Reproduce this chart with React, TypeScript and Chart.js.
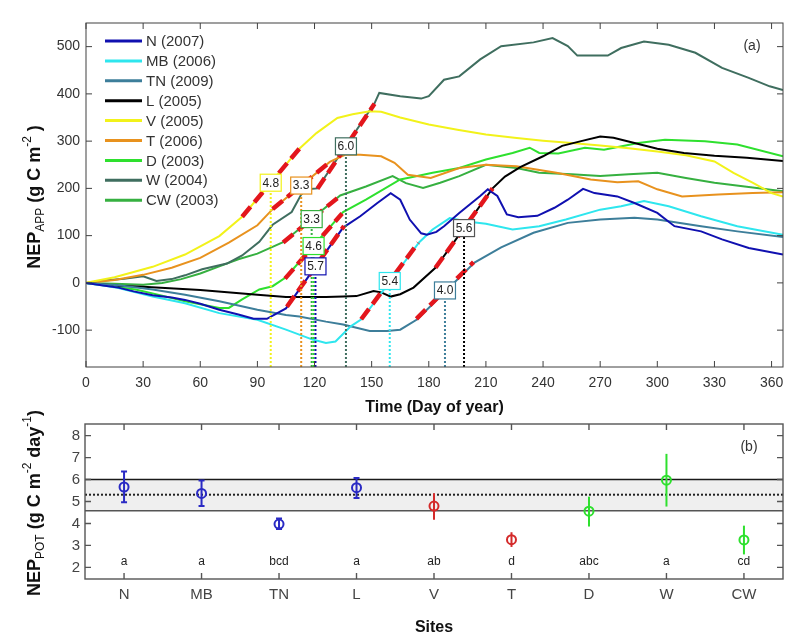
import React, { useEffect, useRef } from 'react';
import { Chart, registerables } from 'chart.js';

Chart.register(...registerables);

const FONT = "'Liberation Sans', Arial, Helvetica, sans-serif";
const TOP_H = 420;
const BOT_TOP = 396;
const BOT_H = 644 - BOT_TOP;

// ---------------- Panel (a): apparent NEP ----------------
const seriesNames = ['N (2007)', 'MB (2006)', 'TN (2009)', 'L (2005)', 'V (2005)', 'T (2006)', 'D (2003)', 'W (2004)', 'CW (2003)'];
const seriesColors = ['#1010b0', '#2ee6ee', '#3d7e9a', '#000000', '#f2f21a', '#e8921e', '#2ee02e', '#3f6e5f', '#36b040'];

const dayN = [0, 10, 17, 25, 35, 45, 52, 60, 70, 80, 88, 95, 100, 105, 135, 144, 153, 160, 165, 170, 176, 179, 184, 188, 196, 207, 211, 216, 221, 227, 237, 246, 253, 261, 267, 279, 288, 300, 309, 323, 334, 348, 366];
const nepN = [0, -6, -10, -18, -26, -31, -36, -44, -57, -67, -76, -76, -65, -54, 117, 141, 169, 190, 176, 134, 105, 102, 108, 120, 148, 184, 198, 184, 145, 139, 142, 159, 176, 199, 190, 183, 169, 148, 120, 109, 92, 74, 60];

const dayMB = [0, 10, 17, 35, 52, 70, 90, 105, 119, 126, 131, 139, 145, 175, 182, 191, 200, 210, 224, 238, 252, 270, 281, 293, 306, 323, 342, 366];
const nepMB = [0, -6, -11, -29, -43, -64, -78, -99, -120, -127, -124, -92, -76, 86, 113, 137, 130, 125, 113, 120, 134, 155, 162, 173, 162, 141, 120, 102];

const dayTN = [0, 17, 35, 52, 70, 90, 105, 112, 126, 135, 149, 158, 165, 174, 204, 218, 235, 253, 270, 288, 300, 323, 342, 366];
const nepTN = [0, -5, -14, -25, -39, -57, -68, -71, -82, -88, -102, -102, -99, -77, 43, 75, 106, 127, 134, 138, 134, 120, 109, 97];

const dayL = [0, 17, 30, 60, 90, 105, 126, 135, 142, 151, 155, 160, 165, 172, 183.5, 213.5, 220, 228, 240, 250, 260, 270, 277, 288, 300, 314, 330, 347, 366];
const nepL = [0, -6, -8, -15, -25, -30, -30, -29, -28, -17, -20, -29, -24, -10, 32, 200, 225, 245, 268, 290, 300, 310, 307, 296, 284, 275, 269, 265, 258];

const dayV = [0, 15, 35, 52, 70, 82, 112, 121, 132, 140, 149, 155, 165, 180, 195, 210, 225, 240, 255, 270, 285, 300, 315, 330, 340, 350, 360, 366];
const nepV = [0, 12, 34, 60, 99, 140, 284, 317, 349, 357, 363, 362, 350, 335, 324, 314, 307, 301, 296, 291, 285, 278, 270, 257, 233, 212, 190, 183];

const dayT = [0, 15, 30, 45, 60, 75, 90, 98, 128, 136, 144, 155, 162, 169, 181, 196, 210, 226, 247, 265, 279, 290, 300, 313, 332, 350, 366];
const nepT = [0, 6, 17, 32, 53, 85, 122, 156, 256, 271, 271, 268, 254, 229, 222, 243, 250, 247, 233, 219, 213, 215, 198, 183, 187, 190, 192];

const dayD = [0, 15, 26, 40, 52, 62, 70, 75, 82, 91, 98, 105, 135, 147, 165, 174, 182, 196, 210, 224, 233, 238, 248, 262, 272, 290, 304, 325, 342, 366];
const nepD = [0, -8, -14, -27, -39, -47, -53, -53, -35, -14, -7, 12, 150, 176, 219, 226, 233, 243, 261, 275, 286, 275, 274, 286, 282, 296, 303, 300, 293, 268];

const dayW = [0, 10, 20, 30, 37, 45, 52, 61, 74, 82, 91, 98, 108, 113, 116, 121.5, 151.5, 154, 165, 176, 180, 188, 196, 207, 218, 235, 245, 253, 258, 265, 274, 281, 293, 306, 320, 334, 348, 359, 366];
const nepW = [0, 5, 9, 14, 4, 8, 16, 29, 41, 58, 87, 123, 150, 187, 198, 200, 380, 402, 395, 390, 395, 430, 437, 473, 501, 509, 518, 501, 481, 481, 481, 497, 511, 504, 487, 455, 434, 416, 408];

const dayCW = [0, 15, 30, 40, 50, 60, 70, 80, 90, 100, 103.5, 133.5, 147, 161, 168, 177, 186, 196, 210, 226, 238, 255, 270, 285, 300, 315, 330, 348, 366];
const nepCW = [0, -2, -4, 0, 8, 20, 35, 50, 62, 80, 86, 185, 204, 226, 211, 201, 212, 226, 250, 243, 233, 230, 226, 230, 233, 222, 212, 203, 194];

const seriesDays = [dayN, dayMB, dayTN, dayL, dayV, dayT, dayD, dayW, dayCW];
const seriesVals = [nepN, nepMB, nepTN, nepL, nepV, nepT, nepD, nepW, nepCW];

// NEP_POT tangent segments (site index, centre day, value at centre, slope)
const potSiteIdx = [4, 5, 7, 8, 6, 0, 1, 2, 3];
const potDay = [97, 113, 136.5, 118.5, 119.5, 120.5, 159.5, 188.5, 198.5];
const potValue = [212, 206, 289, 135, 78, 35, 4, -16, 116];
const potSlope = [4.8, 3.3, 6.0, 3.3, 4.6, 5.7, 5.4, 4.0, 5.6];
const potHalfDays = 15;

const topXTicks = [0, 30, 60, 90, 120, 150, 180, 210, 240, 270, 300, 330, 360];
const topYTicks = [-100, 0, 100, 200, 300, 400, 500];

// ---------------- Panel (b): potential NEP ----------------
const sites = ['N', 'MB', 'TN', 'L', 'V', 'T', 'D', 'W', 'CW'];
const potMean = [5.66, 5.37, 3.97, 5.63, 4.79, 3.26, 4.56, 5.97, 3.25];
const potLow = [4.97, 4.79, 3.75, 5.16, 4.17, 2.93, 3.86, 4.77, 2.59];
const potHigh = [6.37, 5.96, 4.22, 6.07, 5.38, 3.6, 5.22, 7.17, 3.9];
const groupLetters = ['a', 'a', 'bcd', 'a', 'ab', 'd', 'abc', 'a', 'cd'];
const siteColors = ['#2a2ac4', '#2a2ac4', '#2a2ac4', '#2a2ac4', '#d42a2a', '#d42a2a', '#2ee02e', '#2ee02e', '#2ee02e'];
const bandLow = 4.58;
const bandHigh = 6.0;
const bandMean = 5.31;
const letterLevel = 2.25;
const botYTicks = [2, 3, 4, 5, 6, 7, 8];

type Part = { t: string; font: string; dy: number };

function drawRich(ctx: CanvasRenderingContext2D, parts: Part[], cx: number, cy: number, rotate: boolean, color: string) {
  ctx.save();
  ctx.translate(cx, cy);
  if (rotate) ctx.rotate(-Math.PI / 2);
  ctx.fillStyle = color;
  ctx.textAlign = 'left';
  ctx.textBaseline = 'alphabetic';
  let total = 0;
  for (const p of parts) {
    ctx.font = p.font;
    total += ctx.measureText(p.t).width;
  }
  let x = -total / 2;
  for (const p of parts) {
    ctx.font = p.font;
    ctx.fillText(p.t, x, p.dy);
    x += ctx.measureText(p.t).width;
  }
  ctx.restore();
}

function drawBoxAndTicks(ctx: CanvasRenderingContext2D, a: any, xs: number[], ys: number[], len: number, color: string, lw: number) {
  ctx.save();
  ctx.strokeStyle = color;
  ctx.lineWidth = lw;
  ctx.setLineDash([]);
  ctx.beginPath();
  for (const px of xs) {
    ctx.moveTo(px, a.bottom);
    ctx.lineTo(px, a.bottom - len);
    ctx.moveTo(px, a.top);
    ctx.lineTo(px, a.top + len);
  }
  for (const py of ys) {
    ctx.moveTo(a.left, py);
    ctx.lineTo(a.left + len, py);
    ctx.moveTo(a.right, py);
    ctx.lineTo(a.right - len, py);
  }
  ctx.stroke();
  ctx.strokeRect(a.left, a.top, a.right - a.left, a.bottom - a.top);
  ctx.restore();
}

const B18 = `bold 18px ${FONT}`;
const R12 = `12px ${FONT}`;

const topPlugin = {
  id: 'topDeco',
  afterDatasetsDraw(chart: any) {
    const { ctx, chartArea: a } = chart;
    const xs = chart.scales.x;
    const ys = chart.scales.y;
    ctx.save();
    for (let k = 0; k < potDay.length; k++) {
      const px = xs.getPixelForValue(potDay[k]);
      const py = ys.getPixelForValue(potValue[k]);
      ctx.strokeStyle = seriesColors[potSiteIdx[k]];
      ctx.lineWidth = 2;
      ctx.setLineDash([2, 2]);
      ctx.beginPath();
      ctx.moveTo(px, a.bottom);
      ctx.lineTo(px, py + 8);
      ctx.stroke();
    }
    ctx.setLineDash([]);
    for (let k = 0; k < potDay.length; k++) {
      const px = xs.getPixelForValue(potDay[k]);
      const py = ys.getPixelForValue(potValue[k]);
      const c = seriesColors[potSiteIdx[k]];
      const w = 21;
      const h = 17;
      ctx.fillStyle = '#ffffff';
      ctx.fillRect(px - w / 2, py - h / 2, w, h);
      ctx.strokeStyle = potSiteIdx[k] === 3 ? '#555555' : c;
      ctx.lineWidth = 1.2;
      ctx.strokeRect(px - w / 2, py - h / 2, w, h);
      ctx.fillStyle = '#222222';
      ctx.font = `12px ${FONT}`;
      ctx.textAlign = 'center';
      ctx.textBaseline = 'middle';
      ctx.fillText(potSlope[k].toFixed(1), px, py + 0.5);
    }
    ctx.restore();
  },
  afterDraw(chart: any) {
    const { ctx, chartArea: a } = chart;
    const xs = chart.scales.x;
    const ys = chart.scales.y;
    drawBoxAndTicks(
      ctx,
      a,
      topXTicks.map((v) => xs.getPixelForValue(v)),
      topYTicks.map((v) => ys.getPixelForValue(v)),
      6,
      '#404040',
      1
    );
    ctx.save();
    for (let i = 0; i < seriesNames.length; i++) {
      const y = 41 + i * 19.9;
      ctx.strokeStyle = seriesColors[i];
      ctx.lineWidth = 3;
      ctx.beginPath();
      ctx.moveTo(105, y);
      ctx.lineTo(142, y);
      ctx.stroke();
      ctx.fillStyle = '#333333';
      ctx.font = `15px ${FONT}`;
      ctx.textAlign = 'left';
      ctx.textBaseline = 'middle';
      ctx.fillText(seriesNames[i], 146, y + 1);
    }
    ctx.font = `14px ${FONT}`;
    ctx.textAlign = 'center';
    ctx.textBaseline = 'middle';
    ctx.fillStyle = '#333333';
    ctx.fillText('(a)', 752, 46);
    ctx.restore();
    drawRich(ctx, [{ t: 'Time (Day of year)', font: `bold 16px ${FONT}`, dy: 0 }], (a.left + a.right) / 2, 412, false, '#111111');
    drawRich(
      ctx,
      [
        { t: 'NEP', font: B18, dy: 0 },
        { t: 'APP', font: R12, dy: 4 },
        { t: ' (g C m', font: B18, dy: 0 },
        { t: '-2', font: R12, dy: -9 },
        { t: ' )', font: B18, dy: 0 },
      ],
      40,
      197,
      true,
      '#111111'
    );
  },
};

const botPlugin = {
  id: 'botDeco',
  beforeDatasetsDraw(chart: any) {
    const { ctx, chartArea: a } = chart;
    const xs = chart.scales.x;
    const ys = chart.scales.y;
    ctx.save();
    const yHi = ys.getPixelForValue(bandHigh);
    const yLo = ys.getPixelForValue(bandLow);
    const yMe = ys.getPixelForValue(bandMean);
    ctx.fillStyle = '#efefef';
    ctx.fillRect(a.left, yHi, a.right - a.left, yLo - yHi);
    ctx.lineWidth = 1.4;
    ctx.strokeStyle = '#1a1a1a';
    ctx.beginPath();
    ctx.moveTo(a.left, yHi);
    ctx.lineTo(a.right, yHi);
    ctx.stroke();
    ctx.strokeStyle = '#555555';
    ctx.beginPath();
    ctx.moveTo(a.left, yLo);
    ctx.lineTo(a.right, yLo);
    ctx.stroke();
    ctx.strokeStyle = '#222222';
    ctx.lineWidth = 2;
    ctx.setLineDash([2, 2]);
    ctx.beginPath();
    ctx.moveTo(a.left, yMe);
    ctx.lineTo(a.right, yMe);
    ctx.stroke();
    ctx.setLineDash([]);
    for (let i = 0; i < sites.length; i++) {
      const px = xs.getPixelForValue(i);
      const y1 = ys.getPixelForValue(potLow[i]);
      const y2 = ys.getPixelForValue(potHigh[i]);
      ctx.strokeStyle = siteColors[i];
      ctx.lineWidth = 2;
      ctx.beginPath();
      ctx.moveTo(px, y1);
      ctx.lineTo(px, y2);
      if (i < 4) {
        ctx.moveTo(px - 3, y1);
        ctx.lineTo(px + 3, y1);
        ctx.moveTo(px - 3, y2);
        ctx.lineTo(px + 3, y2);
      }
      ctx.stroke();
    }
    ctx.fillStyle = '#222222';
    ctx.font = `12px ${FONT}`;
    ctx.textAlign = 'center';
    ctx.textBaseline = 'middle';
    for (let i = 0; i < sites.length; i++) {
      ctx.fillText(groupLetters[i], xs.getPixelForValue(i), ys.getPixelForValue(letterLevel));
    }
    ctx.restore();
  },
  afterDraw(chart: any) {
    const { ctx, chartArea: a } = chart;
    const xs = chart.scales.x;
    const ys = chart.scales.y;
    drawBoxAndTicks(
      ctx,
      a,
      sites.map((_, i) => xs.getPixelForValue(i)),
      botYTicks.map((v) => ys.getPixelForValue(v)),
      6,
      '#555555',
      1.4
    );
    ctx.save();
    ctx.font = `14px ${FONT}`;
    ctx.textAlign = 'center';
    ctx.textBaseline = 'middle';
    ctx.fillStyle = '#333333';
    ctx.fillText('(b)', 749, 447 - BOT_TOP);
    ctx.restore();
    drawRich(ctx, [{ t: 'Sites', font: `bold 16px ${FONT}`, dy: 0 }], (a.left + a.right) / 2, 632 - BOT_TOP, false, '#111111');
    drawRich(
      ctx,
      [
        { t: 'NEP', font: B18, dy: 0 },
        { t: 'POT', font: R12, dy: 4 },
        { t: ' (g C m', font: B18, dy: 0 },
        { t: '-2', font: R12, dy: -9 },
        { t: ' day', font: B18, dy: 0 },
        { t: '-1', font: R12, dy: -9 },
        { t: ')', font: B18, dy: 0 },
      ],
      40,
      503 - BOT_TOP,
      true,
      '#111111'
    );
  },
};

function topConfig(): any {
  const lineSets = seriesDays.map((days, s) => ({
    type: 'line',
    label: seriesNames[s],
    data: days.map((d, i) => ({ x: d, y: seriesVals[s][i] })),
    borderColor: seriesColors[s],
    backgroundColor: seriesColors[s],
    borderWidth: 2,
    pointRadius: 0,
    tension: 0,
    fill: false,
    order: 1,
  }));
  const potSets = potDay.map((d, k) => ({
    type: 'line',
    label: 'POT ' + seriesNames[potSiteIdx[k]],
    data: [
      { x: d - potHalfDays, y: potValue[k] - potHalfDays * potSlope[k] },
      { x: d + potHalfDays, y: potValue[k] + potHalfDays * potSlope[k] },
    ],
    borderColor: '#e3161c',
    borderWidth: 4.5,
    borderDash: [13, 6],
    borderCapStyle: 'butt',
    pointRadius: 0,
    fill: false,
    order: 0,
  }));
  return {
    type: 'line',
    data: { datasets: [...potSets, ...lineSets] },
    options: {
      responsive: false,
      animation: false,
      devicePixelRatio: 1,
      layout: { padding: { top: 23, right: 17, left: 0, bottom: 0 } },
      plugins: { legend: { display: false }, tooltip: { enabled: false } },
      scales: {
        x: {
          type: 'linear',
          min: 0,
          max: 366,
          grid: { display: false, drawTicks: false },
          border: { display: false },
          ticks: {
            stepSize: 30,
            includeBounds: false,
            autoSkip: false,
            maxRotation: 0,
            padding: 8,
            color: '#333333',
            font: { family: FONT, size: 14 },
          },
          afterFit: (s: any) => {
            s.height = TOP_H - 367;
          },
        },
        y: {
          type: 'linear',
          min: -178,
          max: 550,
          grid: { display: false, drawTicks: false },
          border: { display: false },
          ticks: {
            stepSize: 100,
            includeBounds: false,
            padding: 6,
            color: '#333333',
            font: { family: FONT, size: 14 },
          },
          afterFit: (s: any) => {
            s.width = 86;
          },
        },
      },
    },
    plugins: [topPlugin],
  };
}

function botConfig(): any {
  return {
    type: 'scatter',
    data: {
      datasets: [
        {
          label: 'NEP POT',
          data: sites.map((_, i) => ({ x: i, y: potMean[i] })),
          pointRadius: 4.5,
          pointBorderWidth: 2,
          pointBorderColor: siteColors,
          pointBackgroundColor: 'rgba(0,0,0,0)',
          showLine: false,
        },
      ],
    },
    options: {
      responsive: false,
      animation: false,
      devicePixelRatio: 1,
      layout: { padding: { top: 424 - BOT_TOP, right: 17, left: 0, bottom: 0 } },
      plugins: { legend: { display: false }, tooltip: { enabled: false } },
      scales: {
        x: {
          type: 'linear',
          min: -0.504,
          max: 8.504,
          grid: { display: false, drawTicks: false },
          border: { display: false },
          ticks: {
            stepSize: 1,
            includeBounds: false,
            autoSkip: false,
            maxRotation: 0,
            padding: 7,
            color: '#444444',
            font: { family: FONT, size: 15 },
            callback: (v: any) => {
              const n = Math.round(Number(v));
              return Math.abs(n - Number(v)) < 1e-6 && sites[n] !== undefined ? sites[n] : '';
            },
          },
          afterFit: (s: any) => {
            s.height = 644 - 579;
          },
        },
        y: {
          type: 'linear',
          min: 1.47,
          max: 8.53,
          grid: { display: false, drawTicks: false },
          border: { display: false },
          ticks: {
            stepSize: 1,
            includeBounds: false,
            padding: 5,
            color: '#444444',
            font: { family: FONT, size: 15 },
          },
          afterFit: (s: any) => {
            s.width = 85;
          },
        },
      },
    },
    plugins: [botPlugin],
  };
}

export default function App() {
  const topRef = useRef<HTMLCanvasElement>(null);
  const botRef = useRef<HTMLCanvasElement>(null);
  useEffect(() => {
    const c1 = new Chart(topRef.current as HTMLCanvasElement, topConfig());
    const c2 = new Chart(botRef.current as HTMLCanvasElement, botConfig());
    return () => {
      c1.destroy();
      c2.destroy();
    };
  }, []);
  return (
    <div style={{ position: 'absolute', left: 0, top: 0, width: 800, height: 644, background: '#ffffff' }}>
      <canvas ref={topRef} width={800} height={TOP_H} style={{ position: 'absolute', left: 0, top: 0, width: 800, height: TOP_H }} />
      <canvas ref={botRef} width={800} height={BOT_H} style={{ position: 'absolute', left: 0, top: BOT_TOP, width: 800, height: BOT_H }} />
    </div>
  );
}
